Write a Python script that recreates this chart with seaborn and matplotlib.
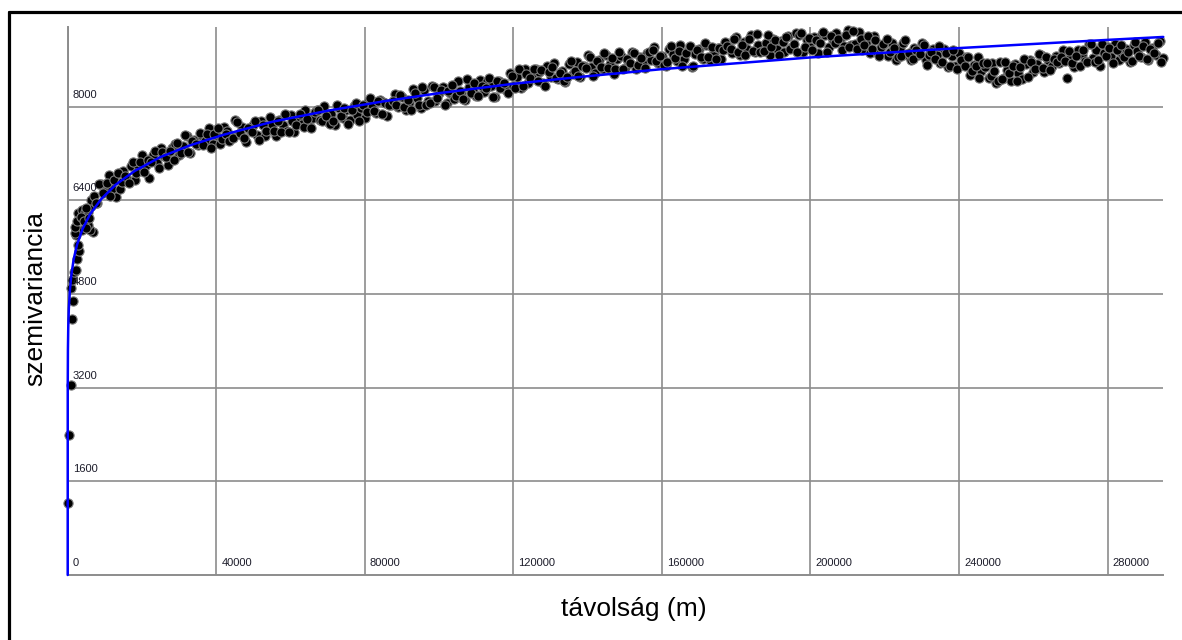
import matplotlib
matplotlib.use("Agg")
import matplotlib.pyplot as plt
import seaborn as sns
import pandas as pd
from matplotlib.lines import Line2D

# ---------------- data ----------------
# empirical semivariogram: points close to the origin (distance in m)
near_dist_m = [160, 430, 810, 1080, 890, 1510, 1240, 1700, 2230, 2420,
               3120, 2690, 2230, 3770, 6890, 6000, 5550, 3310, 4200, 2850,
               5110, 3770, 4660, 1970, 5600, 6300, 2000, 2600, 3500, 4400,
               5000, 5800, 6400, 4900]
near_semivar = [1230, 2390, 3250, 4380, 4900, 4680, 5040, 5180, 5210, 5400,
                5540, 5640, 5810, 5890, 5860, 5890, 5980, 6090, 6180, 6180,
                6090, 6230, 6200, 5840, 6200, 6300, 5950, 6050, 6120, 6050,
                6270, 6100, 6400, 5920]

# the dense band of lags (distance in km), first series of lags
band_dist_km = [
    7, 8, 9, 10, 11, 12, 13, 14, 15, 16,
    17, 18, 19, 20, 21, 22, 23, 24, 25, 26,
    27, 28, 29, 30, 31, 32, 33, 34, 35, 36,
    37, 38, 39, 40, 41, 42, 43, 44, 45, 46,
    47, 48, 49, 50, 51, 52, 53, 54, 55, 56,
    57, 58, 59, 60, 61, 62, 63, 64, 65, 66,
    67, 68, 69, 70, 71, 72, 73, 74, 75, 76,
    77, 78, 79, 80, 81, 82, 83, 84, 85, 86,
    87, 88, 89, 90, 91, 92, 93, 94, 95, 96,
    97, 98, 99, 100, 101, 102, 103, 104, 105, 106,
    107, 108, 109, 110, 111, 112, 113, 114, 115, 116,
    117, 118, 119, 120, 121, 122, 123, 124, 125, 126,
    127, 128, 129, 130, 131, 132, 133, 134, 135, 136,
    137, 138, 139, 140, 141, 142, 143, 144, 145, 146,
    147, 148, 149, 150, 151, 152, 153, 154, 155, 156,
    157, 158, 159, 160, 161, 162, 163, 164, 165, 166,
    167, 168, 169, 170, 171, 172, 173, 174, 175, 176,
    177, 178, 179, 180, 181, 182, 183, 184, 185, 186,
    187, 188, 189, 190, 191, 192, 193, 194, 195, 196,
    197, 198, 199, 200, 201, 202, 203, 204, 205, 206,
    207, 208, 209, 210, 211, 212, 213, 214, 215, 216,
    217, 218, 219, 220, 221, 222, 223, 224, 225, 226,
    227, 228, 229, 230, 231, 232, 233, 234, 235, 236,
    237, 238, 239, 240, 241, 242, 243, 244, 245, 246,
    247, 248, 249, 250, 251, 252, 253, 254, 255, 256,
    257, 258, 259, 260, 261, 262, 263, 264, 265, 266,
    267, 268, 269, 270, 271, 272, 273, 274, 275, 276,
    277, 278, 279, 280, 281, 282, 283, 284, 285, 286,
    287, 288, 289, 290, 291, 292, 293, 294, 295]
band_semivar = [
    6480, 6350, 6670, 6540, 6830, 6590, 6460, 6590, 6900, 6760,
    6990, 6740, 6980, 7180, 7000, 6780, 7170, 7040, 7300, 7150,
    7010, 7290, 7370, 7180, 7320, 7490, 7210, 7430, 7340, 7520,
    7410, 7640, 7370, 7510, 7360, 7660, 7580, 7480, 7770, 7530,
    7660, 7390, 7600, 7690, 7520, 7750, 7490, 7600, 7690, 7490,
    7780, 7690, 7590, 7860, 7570, 7790, 7700, 7940, 7670, 7800,
    7950, 7770, 8010, 7740, 7870, 7680, 7970, 7810, 7940, 7770,
    8010, 7860, 7980, 7810, 8120, 7990, 7890, 8120, 8080, 7840,
    8020, 8220, 7990, 8160, 7950, 8070, 8300, 8150, 7980, 8280,
    8100, 8360, 8100, 8230, 8340, 8060, 8240, 8130, 8430, 8230,
    8120, 8340, 8270, 8180, 8460, 8250, 8440, 8360, 8160, 8440,
    8380, 8280, 8580, 8360, 8500, 8310, 8650, 8410, 8540, 8650,
    8590, 8410, 8690, 8510, 8750, 8480, 8610, 8420, 8720, 8560,
    8770, 8500, 8700, 8880, 8670, 8570, 8800, 8640, 8890, 8720,
    8550, 8810, 8870, 8660, 8780, 8930, 8640, 8850, 8750, 8920,
    8800, 9020, 8740, 8860, 8700, 8990, 8900, 8780, 9060, 8820,
    8950, 8680, 8900, 8990, 8810, 9050, 8790, 8910, 9000, 8810,
    9110, 9020, 8920, 9190, 8890, 9100, 8990, 9220, 8940, 9050,
    8950, 9080, 8880, 9160, 8990, 9120, 8940, 9210, 9020, 9260,
    9230, 8930, 9130, 9020, 9190, 8920, 9240, 9230, 9020, 9140,
    9260, 9160, 9040, 9310, 9050, 9070, 9270, 8970, 9090, 8910,
    9210, 8930, 9020, 9080, 8860, 9080, 8800, 9000, 9080, 8880,
    8800, 9000, 8880, 9090, 8790, 8880, 8990, 8880, 8740, 8990,
    8670, 8870, 8690, 8920, 8720, 8850, 8540, 8710, 8850, 8610,
    8680, 8490, 8750, 8400, 8770, 8490, 8620, 8430, 8730, 8570,
    8470, 8730, 8790, 8590, 8720, 8880, 8590, 8800, 8700, 8870,
    8750, 8970, 8490, 8830, 8670, 8970, 8890, 8780, 9070, 8830,
    8960, 8700, 8920, 9020, 8850, 9070, 8800, 8900, 8980, 8770,
    9050, 8950, 8840, 9100, 8790, 9000, 8890, 9120, 8830]

# second series of lags, between the first ones (distance in km)
band2_dist_km = [
    7.5, 8.5, 9.5, 10.5, 11.5, 12.5, 13.5, 14.5, 15.5, 16.5,
    17.5, 18.5, 19.5, 20.5, 21.5, 22.5, 23.5, 24.5, 25.5, 26.5,
    27.5, 28.5, 29.5, 30.5, 31.5, 32.5, 33.5, 34.5, 35.5, 36.5,
    37.5, 38.5, 39.5, 40.5, 41.5, 42.5, 43.5, 44.5, 45.5, 46.5,
    47.5, 48.5, 49.5, 50.5, 51.5, 52.5, 53.5, 54.5, 55.5, 56.5,
    57.5, 58.5, 59.5, 60.5, 61.5, 62.5, 63.5, 64.5, 65.5, 66.5,
    67.5, 68.5, 69.5, 70.5, 71.5, 72.5, 73.5, 74.5, 75.5, 76.5,
    77.5, 78.5, 79.5, 80.5, 81.5, 82.5, 83.5, 84.5, 85.5, 86.5,
    87.5, 88.5, 89.5, 90.5, 91.5, 92.5, 93.5, 94.5, 95.5, 96.5,
    97.5, 98.5, 99.5, 100.5, 101.5, 102.5, 103.5, 104.5, 105.5, 106.5,
    107.5, 108.5, 109.5, 110.5, 111.5, 112.5, 113.5, 114.5, 115.5, 116.5,
    117.5, 118.5, 119.5, 120.5, 121.5, 122.5, 123.5, 124.5, 125.5, 126.5,
    127.5, 128.5, 129.5, 130.5, 131.5, 132.5, 133.5, 134.5, 135.5, 136.5,
    137.5, 138.5, 139.5, 140.5, 141.5, 142.5, 143.5, 144.5, 145.5, 146.5,
    147.5, 148.5, 149.5, 150.5, 151.5, 152.5, 153.5, 154.5, 155.5, 156.5,
    157.5, 158.5, 159.5, 160.5, 161.5, 162.5, 163.5, 164.5, 165.5, 166.5,
    167.5, 168.5, 169.5, 170.5, 171.5, 172.5, 173.5, 174.5, 175.5, 176.5,
    177.5, 178.5, 179.5, 180.5, 181.5, 182.5, 183.5, 184.5, 185.5, 186.5,
    187.5, 188.5, 189.5, 190.5, 191.5, 192.5, 193.5, 194.5, 195.5, 196.5,
    197.5, 198.5, 199.5, 200.5, 201.5, 202.5, 203.5, 204.5, 205.5, 206.5,
    207.5, 208.5, 209.5, 210.5, 211.5, 212.5, 213.5, 214.5, 215.5, 216.5,
    217.5, 218.5, 219.5, 220.5, 221.5, 222.5, 223.5, 224.5, 225.5, 226.5,
    227.5, 228.5, 229.5, 230.5, 231.5, 232.5, 233.5, 234.5, 235.5, 236.5,
    237.5, 238.5, 239.5, 240.5, 241.5, 242.5, 243.5, 244.5, 245.5, 246.5,
    247.5, 248.5, 249.5, 250.5, 251.5, 252.5, 253.5, 254.5, 255.5, 256.5,
    257.5, 258.5, 259.5, 260.5, 261.5, 262.5, 263.5, 264.5, 265.5, 266.5,
    267.5, 268.5, 269.5, 270.5, 271.5, 272.5, 273.5, 274.5, 275.5, 276.5,
    277.5, 278.5, 279.5, 280.5, 281.5, 282.5, 283.5, 284.5, 285.5, 286.5,
    287.5, 288.5, 289.5, 290.5, 291.5, 292.5, 293.5, 294.5]
band2_semivar = [
    6350, 6670, 6520, 6700, 6480, 6740, 6870, 6710, 6820, 6700,
    7060, 6860, 7060, 6880, 7080, 7050, 7250, 6950, 7230, 7140,
    7240, 7090, 7380, 7200, 7510, 7230, 7420, 7370, 7550, 7350,
    7540, 7290, 7530, 7640, 7450, 7540, 7410, 7460, 7740, 7550,
    7460, 7630, 7570, 7750, 7430, 7690, 7580, 7820, 7580, 7750,
    7570, 7870, 7570, 7760, 7690, 7870, 7660, 7790, 7630, 7910,
    7940, 7750, 7840, 7700, 7750, 8030, 7840, 7970, 7710, 7940,
    8070, 7750, 8020, 7910, 8150, 7920, 8090, 7880, 8070, 8020,
    8100, 8030, 8200, 7990, 8110, 7950, 8230, 8030, 8330, 8030,
    8060, 8340, 8150, 8290, 8030, 8260, 8370, 8180, 8270, 8130,
    8470, 8230, 8400, 8180, 8360, 8310, 8490, 8170, 8430, 8320,
    8400, 8240, 8520, 8320, 8640, 8350, 8550, 8490, 8650, 8440,
    8620, 8360, 8590, 8680, 8490, 8580, 8440, 8500, 8780, 8600,
    8520, 8700, 8660, 8840, 8520, 8780, 8670, 8910, 8660, 8830,
    8650, 8940, 8640, 8820, 8750, 8920, 8710, 8830, 8660, 8940,
    8970, 8780, 8860, 8710, 8760, 9030, 8830, 8950, 8690, 8910,
    9030, 8700, 8960, 8840, 9080, 8840, 9020, 8810, 9000, 8960,
    9040, 8980, 9150, 8940, 9060, 8880, 9150, 8950, 9240, 8930,
    8950, 9220, 9020, 9140, 8880, 9100, 9190, 8990, 9070, 8930,
    9260, 9010, 9180, 8970, 9140, 9090, 9270, 8940, 9200, 9090,
    9160, 8970, 9230, 9020, 9300, 8980, 9150, 9060, 9210, 8980,
    9140, 8860, 9070, 9150, 8940, 9000, 8840, 8870, 9130, 8920,
    8820, 8970, 8900, 9050, 8710, 8940, 8810, 9030, 8760, 8910,
    8700, 8970, 8640, 8800, 8700, 8840, 8600, 8690, 8490, 8750,
    8750, 8530, 8600, 8440, 8480, 8760, 8570, 8700, 8440, 8680,
    8810, 8500, 8760, 8650, 8900, 8660, 8840, 8630, 8810, 8760,
    8850, 8780, 8950, 8740, 8860, 8690, 8970, 8770, 9070, 8770,
    8790, 9070, 8870, 9000, 8740, 8960, 9050, 8850, 8930, 8780,
    9110, 8870, 9030, 8810, 8980, 8920, 9090, 8760]

# fitted model curve (blue)
model_dist_m = [0, 10, 60, 150, 300, 600, 1000, 1600, 2500, 4000,
                6000, 9000, 13000, 18000, 25000, 33000, 42000, 55000, 70000, 85000,
                100000, 120000, 140000, 160000, 180000, 200000, 220000, 240000, 260000, 280000,
                295000]
model_semivar = [0, 3210, 3850, 4230, 4540, 4870, 5130, 5390, 5640, 5910,
                 6160, 6420, 6670, 6900, 7140, 7340, 7520, 7740, 7930, 8090,
                 8230, 8390, 8520, 8640, 8740, 8840, 8920, 9000, 9070, 9140,
                 9190]

x_ticks = [0, 40000, 80000, 120000, 160000, 200000, 240000, 280000]
y_ticks = [1600, 3200, 4800, 6400, 8000]
x_label = "távolság (m)"
y_label = "szemivariancia"

# ---------------- figure ----------------
sns.set_style("white")
plt.rcParams["font.family"] = ["Liberation Sans", "DejaVu Sans"]

W, H = 1182, 640
fig = plt.figure(figsize=(W / 100, H / 100), dpi=100)
ax_l, ax_r, ax_t, ax_b = 67.7, 1163.3, 27, 575
ax = fig.add_axes([ax_l / W, 1 - ax_b / H, (ax_r - ax_l) / W, (ax_b - ax_t) / H])

pts = pd.DataFrame({
    "dist": near_dist_m
            + [k * 1000 for k in band_dist_km]
            + [k * 1000 for k in band2_dist_km],
    "semivar": near_semivar + band_semivar + band2_semivar,
})
model = pd.DataFrame({"dist": model_dist_m, "semivar": model_semivar})

sns.scatterplot(data=pts, x="dist", y="semivar", ax=ax, color="black",
                edgecolor="#7a7a7a", linewidth=0.8, s=44, zorder=3,
                clip_on=False, legend=False)
sns.lineplot(data=model, x="dist", y="semivar", ax=ax, color="#0000ff",
             linewidth=1.8, sort=False, estimator=None, zorder=4,
             clip_on=False, legend=False)

ax.set_xlim(0, 295000)
ax.set_ylim(0, 9360)
ax.set_xticks(x_ticks)
ax.set_yticks(y_ticks)
ax.set_xticklabels([])
ax.set_yticklabels([])
ax.tick_params(length=0)
ax.grid(True, color="#8c8c8c", linewidth=1.2)
ax.set_axisbelow(True)
for side in ("top", "right"):
    ax.spines[side].set_visible(False)
for side in ("bottom", "left"):
    ax.spines[side].set_color("#8c8c8c")
    ax.spines[side].set_linewidth(1.4)
ax.set_xlabel("")
ax.set_ylabel("")

lab_kw = dict(textcoords="offset pixels", ha="left", va="baseline",
              fontsize=8, color="#1c1c2a", zorder=5)
for v in x_ticks:
    ax.annotate(str(v), xy=(v, 0), xycoords="data", xytext=(5, 9), **lab_kw)
for v in y_ticks:
    ax.annotate(str(v), xy=(0, v), xycoords="data", xytext=(5, 9), **lab_kw)

fig.text(634 / W, 1 - 609 / H, x_label, ha="center", va="center",
         fontsize=19, color="black")
fig.text(35 / W, 1 - 298 / H, y_label, ha="center", va="center",
         rotation=90, fontsize=19, color="black")

# outer black frame (left and top edges visible)
fig.add_artist(Line2D([9 / W, 9 / W], [0, 1 - 11.5 / H],
                      transform=fig.transFigure, color="black", linewidth=2.3))
fig.add_artist(Line2D([9 / W, 1], [1 - 11.5 / H, 1 - 11.5 / H],
                      transform=fig.transFigure, color="black", linewidth=2.3))

fig.savefig("out.png", dpi=100, facecolor="white")
